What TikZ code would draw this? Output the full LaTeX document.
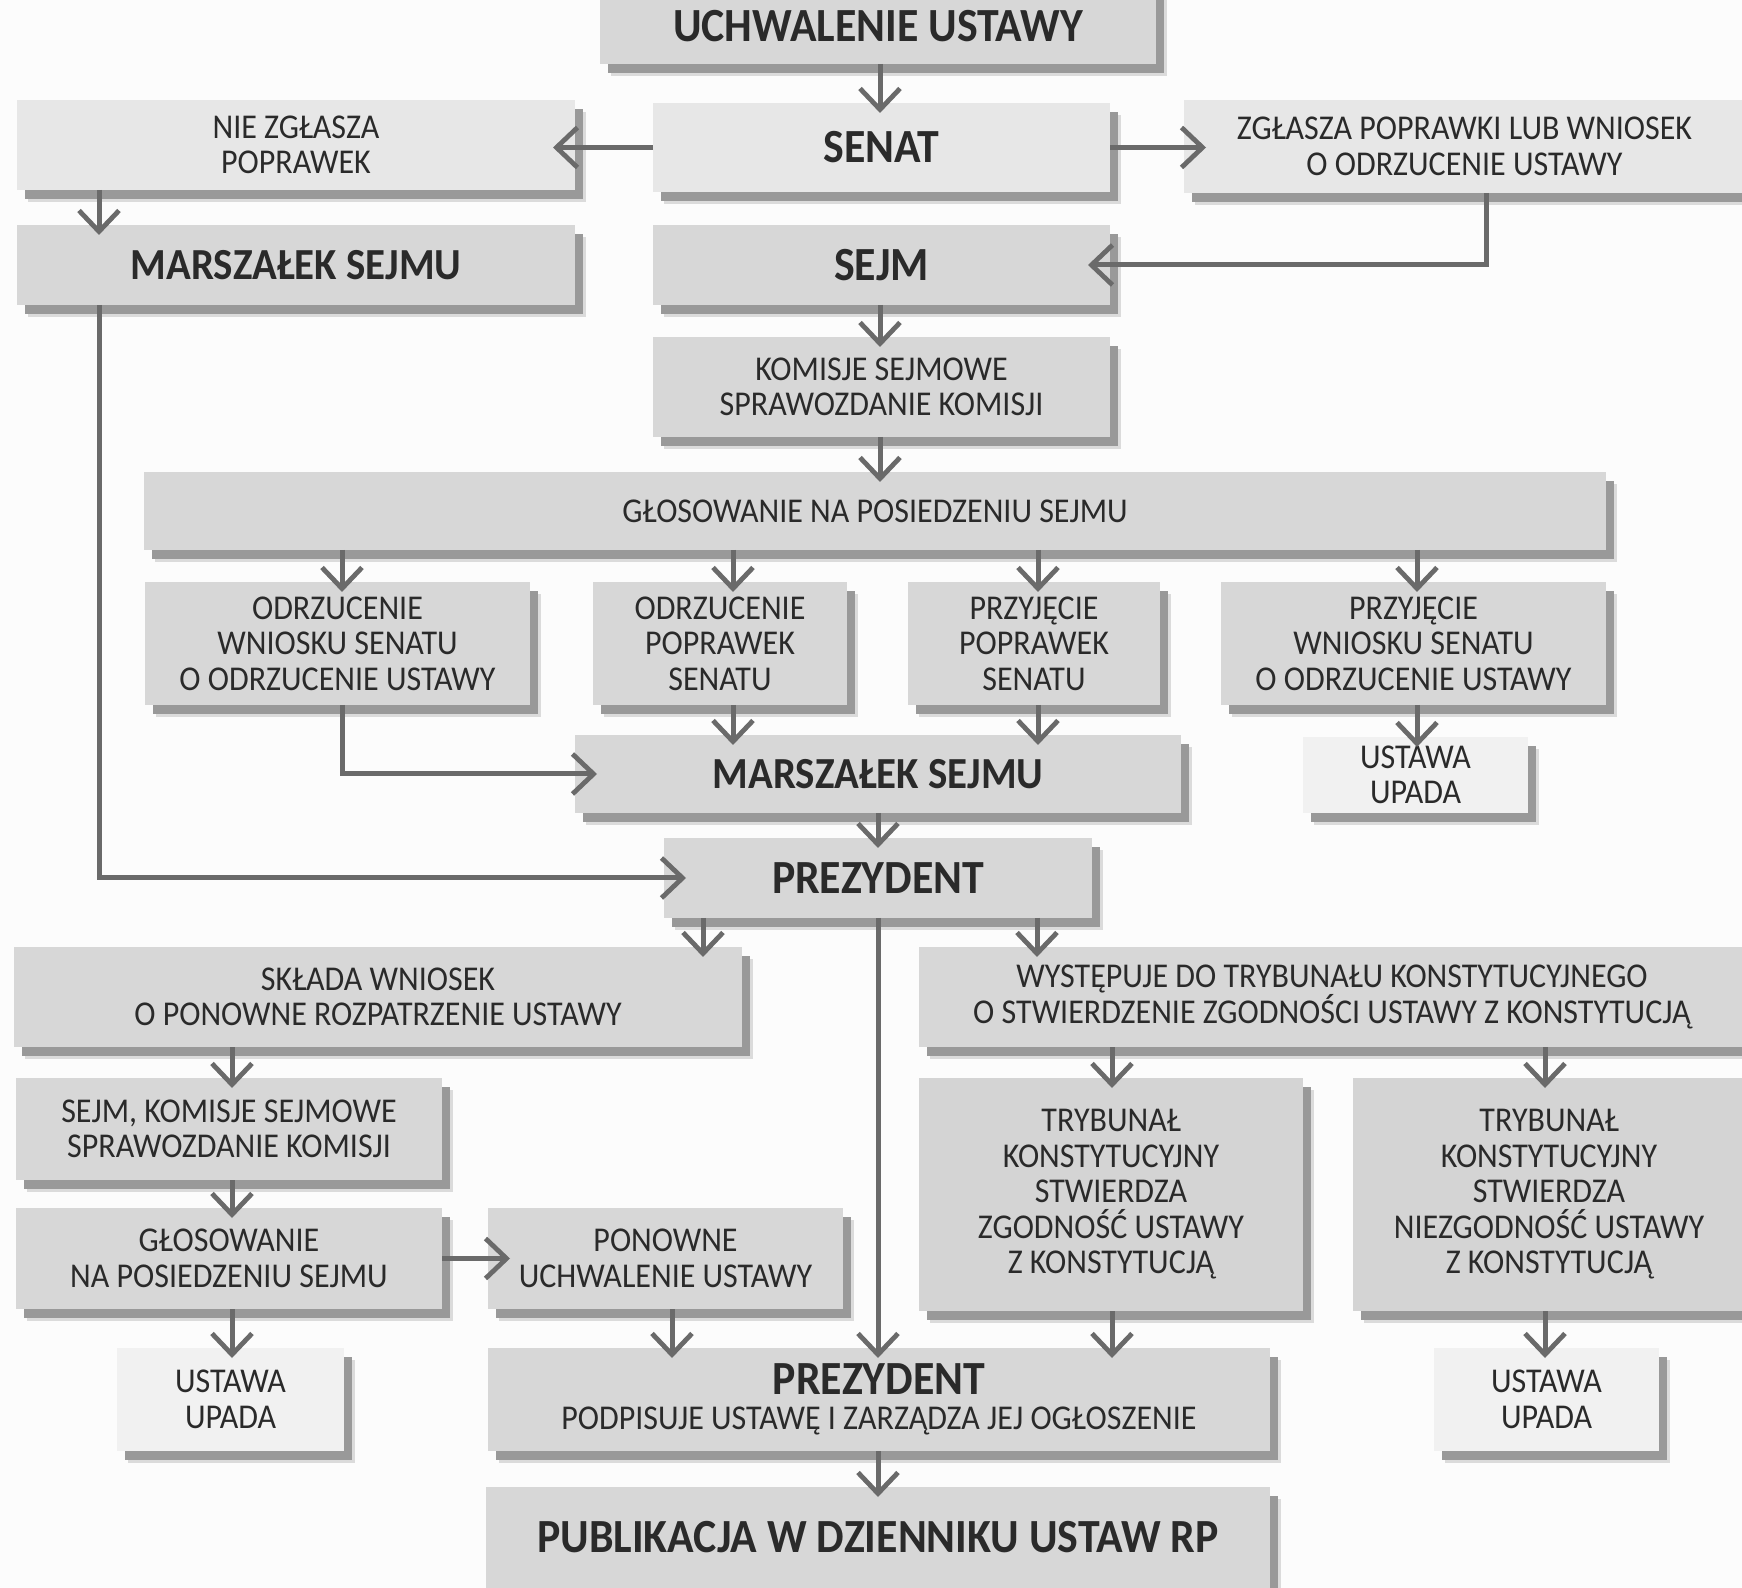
\documentclass[tikz,border=0pt]{standalone}
\usepackage{fontspec}
\setmainfont[FakeStretch=0.92]{Carlito}
\usetikzlibrary{arrows.meta,shadows,calc}
\definecolor{arrc}{HTML}{6A6A6A}
\definecolor{txt}{HTML}{2A2A2A}
\definecolor{bxA}{HTML}{D7D7D7}
\definecolor{bxL}{HTML}{E7E7E7}
\definecolor{bxU}{HTML}{F1F1F1}
\definecolor{bxT}{HTML}{D4D4D4}
\definecolor{bg}{HTML}{FCFCFC}
\newcommand\regf{\fontsize{17.4}{17.75}\selectfont}
\newcommand\bldf{\bfseries\fontsize{23.8}{25}\selectfont}
\newcommand\bldm{\bfseries\fontsize{22.2}{24}\selectfont}
\newcommand\mkbox[7]{%
 \pgfmathsetmacro\bxw{(#4-#2)*0.5}%
 \pgfmathsetmacro\bxh{(#5-#3)*0.5}%
 \node[box,#6,minimum width=\bxw pt,minimum height=\bxh pt] (#1) at ({(#2+#4)/2},{(#3+#5)/2}) {#7};}
\begin{document}
\begin{tikzpicture}[x=0.5pt,y=-0.5pt,
  shd/.style={general shadow={fill=black!14, shadow xshift=5.5pt, shadow yshift=-6pt},
              general shadow={fill=black!40, shadow xshift=4pt, shadow yshift=-4.5pt}},
  box/.style={rectangle, inner sep=0pt, outer sep=0pt, align=center, text=txt, font=\regf, fill=bxA, shd},
  arr/.style={draw=arrc, line width=2.5pt, -{Straight Barb[length=10.5pt,width=20pt,line width=2.4pt]}, shorten >=-5pt},
  harr/.style={arr, shorten >=-11pt}]
\useasboundingbox (0,0) rectangle (1742,1588);
\fill[bg] (0,0) rectangle (1742,1588);
% boxes
\mkbox{uch}{600}{-12}{1156}{64}{font=\bldf}{UCHWALENIE USTAWY}
\mkbox{senat}{653}{103}{1110}{192}{fill=bxL,font=\bldf}{SENAT}
\mkbox{niezg}{17}{100}{575}{190}{fill=bxL}{NIE ZGŁASZA\\POPRAWEK}
\mkbox{zgl}{1184}{100}{1745}{193}{fill=bxL}{ZGŁASZA POPRAWKI LUB WNIOSEK\\O ODRZUCENIE USTAWY}
\mkbox{marsz1}{17}{225}{575}{305}{font=\bldm}{MARSZAŁEK SEJMU}
\mkbox{sejm}{653}{225}{1110}{305}{font=\bldf}{SEJM}
\mkbox{kom}{653}{337}{1110}{437}{}{KOMISJE SEJMOWE\\SPRAWOZDANIE KOMISJI}
\mkbox{glos}{144}{472}{1606}{550}{}{GŁOSOWANIE NA POSIEDZENIU SEJMU}
\mkbox{r1}{145}{582}{530}{705}{}{ODRZUCENIE\\WNIOSKU SENATU\\O ODRZUCENIE USTAWY}
\mkbox{r2}{593}{582}{847}{705}{}{ODRZUCENIE\\POPRAWEK\\SENATU}
\mkbox{r3}{908}{582}{1160}{705}{}{PRZYJĘCIE\\POPRAWEK\\SENATU}
\mkbox{r4}{1221}{582}{1606}{705}{}{PRZYJĘCIE\\WNIOSKU SENATU\\O ODRZUCENIE USTAWY}
\mkbox{marsz2}{575}{735}{1181}{813}{font=\bldm}{MARSZAŁEK SEJMU}
\mkbox{up1}{1303}{737}{1528}{813}{fill=bxU}{USTAWA\\UPADA}
\mkbox{prez1}{664}{838}{1092}{918}{font=\bldf}{PREZYDENT}
\mkbox{sklada}{14}{947}{742}{1047}{}{SKŁADA WNIOSEK\\O PONOWNE ROZPATRZENIE USTAWY}
\mkbox{wyst}{919}{947}{1745}{1047}{}{WYSTĘPUJE DO TRYBUNAŁU KONSTYTUCYJNEGO\\O STWIERDZENIE ZGODNOŚCI USTAWY Z KONSTYTUCJĄ}
\mkbox{sejm2}{16}{1078}{442}{1180}{}{SEJM, KOMISJE SEJMOWE\\SPRAWOZDANIE KOMISJI}
\mkbox{tk1}{919}{1078}{1303}{1311}{fill=bxT}{TRYBUNAŁ\\KONSTYTUCYJNY\\STWIERDZA\\ZGODNOŚĆ USTAWY\\Z KONSTYTUCJĄ}
\mkbox{tk2}{1353}{1078}{1745}{1311}{fill=bxT}{TRYBUNAŁ\\KONSTYTUCYJNY\\STWIERDZA\\NIEZGODNOŚĆ USTAWY\\Z KONSTYTUCJĄ}
\mkbox{glos2}{16}{1208}{442}{1309}{}{GŁOSOWANIE\\NA POSIEDZENIU SEJMU}
\mkbox{pon}{488}{1208}{843}{1309}{}{PONOWNE\\UCHWALENIE USTAWY}
\mkbox{up2}{117}{1348}{344}{1451}{fill=bxU}{USTAWA\\UPADA}
\mkbox{prez2}{488}{1348}{1270}{1451}{}{{\bldf PREZYDENT}\\{\regf PODPISUJE USTAWĘ I ZARZĄDZA JEJ OGŁOSZENIE}}
\mkbox{up3}{1434}{1348}{1659}{1451}{fill=bxU}{USTAWA\\UPADA}
\mkbox{publ}{486}{1487}{1270}{1588}{font=\bldf}{PUBLIKACJA W DZIENNIKU USTAW RP}
% x positions of connectors
\coordinate (k880) at (880,0);
\coordinate (k878) at (878,0);
\coordinate (k1486) at (1486,0);
\coordinate (k99) at (99,0);
\coordinate (k342) at (342,0);
\coordinate (k733) at (733,0);
\coordinate (k1038) at (1038,0);
\coordinate (k1417) at (1417,0);
\coordinate (k703) at (703,0);
\coordinate (k1037) at (1037,0);
\coordinate (k232) at (232,0);
\coordinate (k672) at (672,0);
\coordinate (k1112) at (1112,0);
\coordinate (k1545) at (1545,0);
% connectors
\draw[arr] (uch.south -| k880) -- (senat.north -| k880);
\draw[harr] (senat.west) -- (niezg.east |- senat.west);
\draw[harr] (senat.east) -- (zgl.west |- senat.east);
\draw[harr] (zgl.south -| k1486) |- (sejm.east);
\draw[arr] (niezg.south -| k99) -- (marsz1.north -| k99);
\draw[harr] (marsz1.south -| k99) |- (prez1.west);
\draw[arr] (sejm.south -| k880) -- (kom.north -| k880);
\draw[arr] (kom.south -| k880) -- (glos.north -| k880);
\draw[arr] (glos.south -| k342) -- (r1.north -| k342);
\draw[arr] (glos.south -| k733) -- (r2.north -| k733);
\draw[arr] (glos.south -| k1038) -- (r3.north -| k1038);
\draw[arr] (glos.south -| k1417) -- (r4.north -| k1417);
\draw[arr] (r2.south -| k733) -- (marsz2.north -| k733);
\draw[arr] (r3.south -| k1038) -- (marsz2.north -| k1038);
\draw[harr] (r1.south -| k342) |- (marsz2.west);
\draw[arr] (r4.south -| k1417) -- (up1.north -| k1417);
\draw[arr] (marsz2.south -| k878) -- (prez1.north -| k878);
\draw[arr] (prez1.south -| k703) -- (sklada.north -| k703);
\draw[arr] (prez1.south -| k1037) -- (wyst.north -| k1037);
\draw[arr] (prez1.south -| k878) -- (prez2.north -| k878);
\draw[arr] (sklada.south -| k232) -- (sejm2.north -| k232);
\draw[arr] (sejm2.south -| k232) -- (glos2.north -| k232);
\draw[arr] (glos2.south -| k232) -- (up2.north -| k232);
\draw[harr] (glos2.east) -- (pon.west |- glos2.east);
\draw[arr] (pon.south -| k672) -- (prez2.north -| k672);
\draw[arr] (wyst.south -| k1112) -- (tk1.north -| k1112);
\draw[arr] (tk1.south -| k1112) -- (prez2.north -| k1112);
\draw[arr] (wyst.south -| k1545) -- (tk2.north -| k1545);
\draw[arr] (tk2.south -| k1545) -- (up3.north -| k1545);
\draw[arr] (prez2.south -| k878) -- (publ.north -| k878);
\end{tikzpicture}
\end{document}
